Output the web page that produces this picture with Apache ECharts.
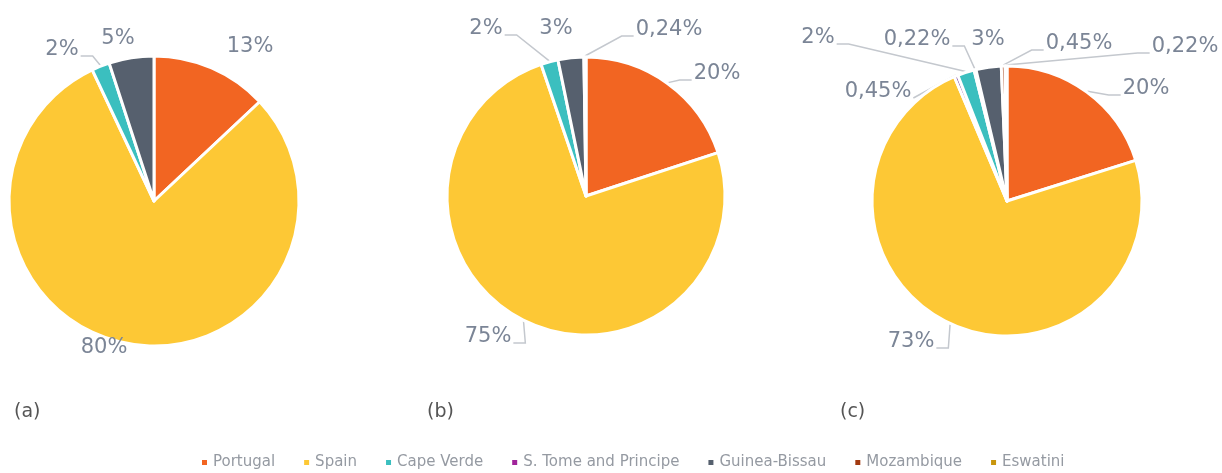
<!DOCTYPE html>
<html>
<head>
<meta charset="utf-8">
<script src="https://cdn.jsdelivr.net/npm/echarts@6/dist/echarts.min.js"></script>
<style>
html,body{margin:0;padding:0;background:#fff;}
#c{width:1222px;height:473px;}
</style>
</head>
<body>
<div id="c"></div>
<script>
const categories = ['Portugal','Spain','Cape Verde','S. Tome and Principe','Guinea-Bissau','Mozambique','Eswatini'];
const colors = ['#F26522','#FDC835','#3BBFBF','#A0249A','#56606E','#A23A10','#C8960E'];
const panelTitles = ['(a)','(b)','(c)'];
// values in percent, clockwise from 12 o'clock
const namesA = ['Portugal','Spain','Cape Verde','Guinea-Bissau'];
const valuesA = [13, 80, 2, 5];
const namesB = ['Portugal','Spain','Cape Verde','Guinea-Bissau','Mozambique'];
const valuesB = [20, 75, 2, 3, 0.24];
const namesC = ['Portugal','Spain','Other','Cape Verde','S. Tome and Principe','Guinea-Bissau','Mozambique','Eswatini'];
const valuesC = [20, 73, 0.45, 2, 0.22, 3, 0.45, 0.22];

// label placement (label centre in px), leader line drawn?, leader bent (elbow) or straight
const labelPosA = [[250,47],[104,348],[62,50],[118,39]];
const leaderA = [false,false,true,false];
const bendA = [true,true,true,true];
const labelPosB = [[717,74],[488,337],[486,29],[556,29],[669,30]];
const leaderB = [true,true,true,false,true];
const bendB = [true,true,true,true,true];
const labelPosC = [[1146,89],[911,342],[878,92],[818,38],[917,40],[988,40],[1079,44],[1185,47]];
const leaderC = [true,true,true,true,true,false,true,true];
const bendC = [true,true,false,true,true,true,true,true];

const colorOf = n => {
  const i = categories.indexOf(n);
  return i >= 0 ? colors[i] : '#7B3F9E';
};
const fmt = v => v < 1 ? v.toFixed(2).replace('.', ',') + '%' : Math.round(v) + '%';
const mk = (names, vals, leader) => names.map((n, i) => ({
  name: n, value: vals[i], itemStyle: {color: colorOf(n)}, labelLine: {show: leader[i]}
}));

function pie(center, radius, names, vals, pos, leader, bend) {
  const total = vals.reduce((a, b) => a + b, 0);
  const mids = [];
  let acc = 0;
  vals.forEach(v => { mids.push((acc + v / 2) / total * 2 * Math.PI); acc += v; });
  return {
    type: 'pie', center: center, radius: radius, startAngle: 90, clockwise: true,
    avoidLabelOverlap: false, minShowLabelAngle: 0,
    itemStyle: {borderColor: '#fff', borderWidth: 3},
    label: {
      show: true, position: 'outside', color: '#7B8596', fontSize: 21,
      fontFamily: 'DejaVu Sans', formatter: p => fmt(p.value)
    },
    labelLine: {show: true, lineStyle: {color: '#C4C8CE', width: 1.5}, length: 10, length2: 10,
      minTurnAngle: 1, maxSurfaceAngle: 179},
    labelLayout: function (params) {
      const i = params.dataIndex;
      const p = pos[i];
      const w = params.labelRect.width;
      const out = {x: p[0], y: p[1], align: 'center', verticalAlign: 'middle'};
      if (leader[i]) {
        const a = mids[i];
        const p0 = [center[0] + (radius + 1) * Math.sin(a), center[1] - (radius + 1) * Math.cos(a)];
        const left = p[0] < center[0];
        const x2 = left ? p[0] + w / 2 + 2 : p[0] - w / 2 - 2;
        const y2 = p[1] + 6;
        if (bend[i]) {
          const x1 = left ? x2 + 12 : x2 - 12;
          out.labelLinePoints = [p0, [x1, y2], [x2, y2]];
        } else {
          out.labelLinePoints = [p0, [(p0[0] + x2) / 2, (p0[1] + y2) / 2], [x2, y2]];
        }
      }
      return out;
    },
    emphasis: {disabled: true},
    data: mk(names, vals, leader)
  };
}

const chart = echarts.init(document.getElementById('c'), null, {renderer: 'canvas'});
chart.setOption({
  animation: false,
  legend: {
    top: 450, left: 195, itemWidth: 7, itemHeight: 7, itemGap: 27, icon: 'rect',
    textStyle: {color: '#959AA2', fontSize: 15, fontFamily: 'DejaVu Sans'},
    data: categories
  },
  title: panelTitles.map((t, i) => ({
    text: t, left: [9, 422, 835][i], top: 398,
    textStyle: {color: '#555', fontSize: 19, fontWeight: 'normal', fontFamily: 'DejaVu Sans'}
  })),
  series: [
    pie([154, 201], 145, namesA, valuesA, labelPosA, leaderA, bendA),
    pie([586, 196], 139, namesB, valuesB, labelPosB, leaderB, bendB),
    pie([1007, 201], 135, namesC, valuesC, labelPosC, leaderC, bendC)
  ]
});
</script>
</body>
</html>
